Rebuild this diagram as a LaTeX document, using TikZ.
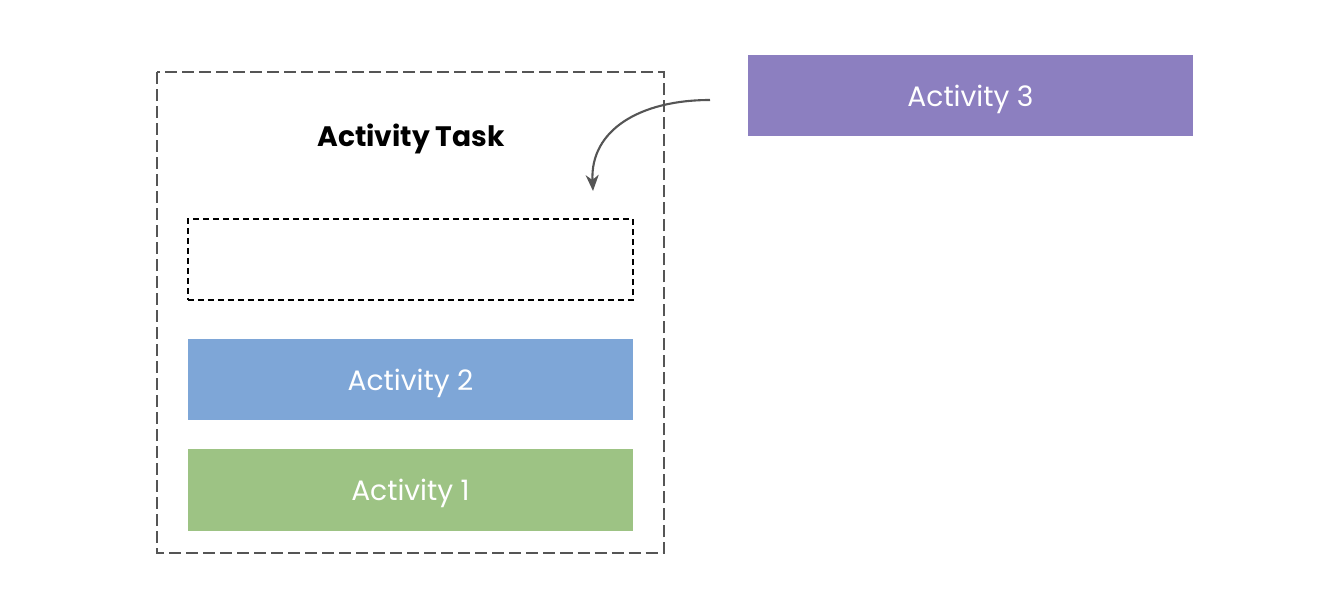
\documentclass[tikz,border=0pt]{standalone}
\usepackage{fontspec}
\setmainfont{Poppins}
\usepackage{xcolor}
\usetikzlibrary{arrows.meta,positioning,calc}
\definecolor{actblue}{HTML}{7EA6D7}
\definecolor{actgreen}{HTML}{9DC384}
\definecolor{actpurple}{HTML}{8C7FC0}
\definecolor{linegray}{HTML}{555555}
\tikzset{
    actbox/.style={minimum width=4.45cm, minimum height=0.81cm, inner sep=0pt, text depth=0pt, text=white, font=\fontsize{8}{10}\selectfont},
    slotbox/.style={draw, dashed, dash pattern=on 0.06cm off 0.04cm, minimum width=4.45cm, minimum height=0.81cm, inner sep=0pt}
}
\begin{document}
\begin{tikzpicture}[x=0.01cm, y=-0.01cm]
    \useasboundingbox (0,0) rectangle (1326,600);
    \draw[linegray, dash pattern=on 0.12cm off 0.05cm] (157,72) rectangle (664,553);
    \node[text depth=0pt, font=\bfseries\fontsize{8}{10}\selectfont] (title) at (411,135) {Activity Task};
    \node[slotbox] (slot) at (410.5,259.5) {};
    \node[actbox, fill=actblue] (act2) at (410.5,379.5) {Activity 2};
    \node[actbox, fill=actgreen] (act1) at (410.5,490) {Activity 1};
    \node[actbox, fill=actpurple] (act3) at (970.5,95.5) {Activity 3};
    \coordinate (from) at (710,100);
    \coordinate (to) at (593,191);
    \draw[linegray, line width=0.6pt, -{Stealth[length=0.16cm, width=0.13cm, inset=0.05cm]}] (from) .. controls (640,100) and (590,130) .. (to);
\end{tikzpicture}
\end{document}
